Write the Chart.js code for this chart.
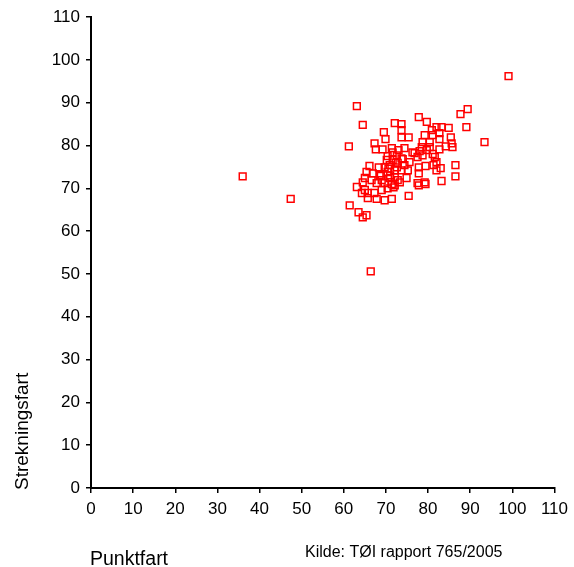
<!DOCTYPE html>
<html>
<head>
<meta charset="utf-8">
<style>
  html, body { margin: 0; padding: 0; background: #fff; }
  #speedChart { display: block; }
</style>
<script src="https://cdn.jsdelivr.net/npm/chart.js@4"></script>
</head>
<body>
<canvas id="speedChart" width="574" height="567"></canvas>
<script>
// Spot speed (x) against section speed (y), one entry per site
let punktfart = [
  36.0, 47.4, 99.1, 66.4, 93.4,
  63.1, 64.5, 61.2, 72.1, 73.7, 73.7, 69.5, 69.9, 73.7, 75.4,
  67.3, 74.4, 76.3, 67.6, 69.2, 71.4, 71.6, 72.6, 73.7,
  66.1, 68.3, 69.7, 70.9, 72.8, 74.4,
  65.4, 66.9, 68.5, 70.4, 72.1, 73.7, 75.2,
  65.0, 66.6, 69.0, 70.9, 72.8, 74.9,
  64.5, 67.8, 69.7, 73.3,
  77.8, 79.7, 87.7, 89.4, 89.1,
  82.0, 83.2, 84.9, 80.9, 81.1, 82.7, 79.2, 82.7, 85.4,
  78.7, 80.4, 85.6, 85.8, 78.5, 80.4, 84.2,
  78.0, 79.7, 82.7, 76.8, 78.7, 81.1, 77.5, 81.6,
  82.0, 75.6, 77.8, 79.4, 81.3, 83.0, 86.5,
  77.8, 82.0, 86.5, 83.2, 77.5, 79.2,
  63.1, 65.0, 64.3, 65.7, 67.3, 69.0, 70.4, 72.1,
  65.7, 67.8, 69.7, 71.4, 75.4,
  61.4, 63.5, 65.4, 64.5, 77.8, 79.4,
  70.2, 71.6, 72.1, 71.4, 72.6, 70.4, 73.0,
  71.0, 72.3, 70.6, 74.0, 68.8, 71.8
];
let strekningsfart = [
  72.8, 67.5, 96.2, 50.6, 80.8,
  89.2, 84.8, 79.8, 85.2, 85.0, 83.6, 83.1, 81.5, 81.9, 81.9,
  80.5, 79.4, 78.4, 79.1, 79.1, 79.4, 78.4, 77.7, 77.0,
  75.2, 74.9, 74.9, 75.4, 75.9, 75.4,
  73.8, 73.5, 73.1, 73.8, 74.2, 74.2, 74.2,
  72.4, 71.9, 71.9, 72.4, 71.9, 72.4,
  71.4, 71.2, 71.2, 71.4,
  86.6, 85.5, 87.3, 88.5, 84.3,
  84.3, 84.3, 84.1, 83.6, 82.4, 82.9, 82.4, 81.5, 81.9,
  80.8, 80.8, 80.5, 79.6, 79.6, 79.6, 79.8,
  78.7, 78.9, 79.1, 78.2, 77.7, 78.0, 77.3, 77.3,
  76.1, 76.1, 74.9, 75.2, 75.4, 74.7, 75.4,
  73.5, 74.2, 72.8, 71.7, 71.2, 71.4,
  70.3, 69.6, 68.9, 68.9, 68.9, 69.6, 70.0, 70.7,
  67.7, 67.5, 67.2, 67.5, 68.2,
  66.0, 64.4, 63.7, 63.2, 70.7, 71.0,
  76.6, 76.6, 72.6, 71.0, 74.9, 77.5, 78.9,
  73.0, 76.0, 74.6, 76.8, 72.9, 70.2
];
let axisMin = 0;
let axisMax = 110;
let axisStep = 10;
let xTitle = "Punktfart";
let yTitle = "Strekningsfart";
let sourceNote = "Kilde: TØI rapport 765/2005";

const FONT = "'Liberation Sans', Arial, sans-serif";

// Axis titles and source line, drawn onto the canvas after the chart
const captionPlugin = {
  id: "captions",
  afterDraw(chart) {
    const ctx = chart.ctx;
    ctx.save();
    ctx.fillStyle = "#000";
    ctx.font = "19.5px " + FONT;
    ctx.textBaseline = "alphabetic";
    ctx.textAlign = "left";
    ctx.fillText(xTitle, 90, 565);

    ctx.save();
    ctx.font = "19px " + FONT;
    ctx.translate(28, 490);
    ctx.rotate(-Math.PI / 2);
    ctx.fillText(yTitle, 0, 0);
    ctx.restore();

    ctx.font = "16px " + FONT;
    ctx.fillText(sourceNote, 305, 557);
    ctx.restore();
  }
};

function axisOptions(fitFn) {
  return {
    type: "linear",
    min: axisMin,
    max: axisMax,
    afterFit: fitFn,
    border: { display: true, color: "#000", width: 2 },
    grid: {
      drawOnChartArea: false,
      drawTicks: true,
      tickLength: 5,
      color: "#000",
      lineWidth: 1.5
    },
    ticks: {
      stepSize: axisStep,
      color: "#000",
      padding: 6,
      maxRotation: 0,
      font: { family: FONT, size: 17 }
    }
  };
}

let points = punktfart.map((x, i) => ({ x: x, y: strekningsfart[i] }));

new Chart(document.getElementById("speedChart").getContext("2d"), {
  type: "scatter",
  data: {
    datasets: [{
      data: points,
      pointStyle: "rect",
      pointRadius: 4.8,
      pointBorderWidth: 1.5,
      borderColor: "#ff0000",
      backgroundColor: "rgba(255,255,255,0)"
    }]
  },
  options: {
    responsive: false,
    animation: false,
    layout: { padding: { top: 17, right: 19, left: 0, bottom: 0 } },
    plugins: {
      legend: { display: false },
      tooltip: { enabled: false }
    },
    scales: {
      x: axisOptions(scale => { scale.height = 79; }),
      y: axisOptions(scale => { scale.width = 91; })
    }
  },
  plugins: [captionPlugin]
});
</script>
</body>
</html>
